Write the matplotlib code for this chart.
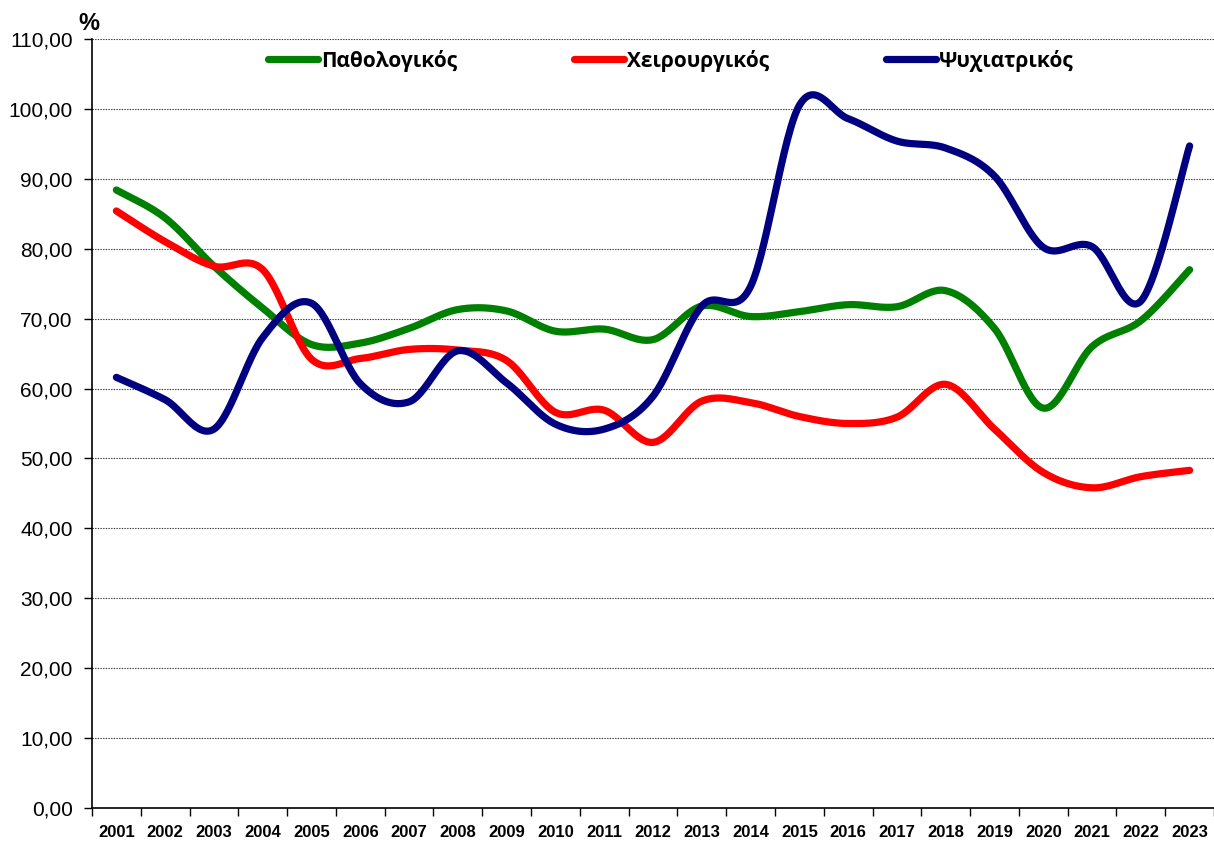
import numpy as np
import matplotlib
matplotlib.use("Agg")
import matplotlib.pyplot as plt

years = [str(y) for y in range(2001, 2024)]
pathologikos = [88.4, 84.4, 77.5, 71.5, 66.3, 66.5, 68.6, 71.3, 71.1, 68.2, 68.5, 67.0,
                71.8, 70.3, 71.0, 72.0, 71.7, 74.0, 68.6, 57.2, 66.0, 69.7, 77.0]
cheirourgikos = [85.4, 81.0, 77.5, 77.0, 64.2, 64.3, 65.6, 65.5, 64.0, 56.6, 56.9, 52.3,
                 58.2, 58.0, 56.0, 55.0, 55.9, 60.6, 54.2, 48.0, 45.8, 47.4, 48.3]
psychiatrikos = [61.6, 58.4, 54.2, 67.3, 72.2, 60.7, 58.1, 65.4, 60.8, 54.9, 54.2, 58.9,
                 71.8, 74.6, 100.5, 98.6, 95.4, 94.4, 90.4, 80.2, 80.3, 72.5, 94.7]
series_names = ["Παθολογικός", "Χειρουργικός", "Ψυχιατρικός"]
colors = ["#008000", "#FF0000", "#000080"]
yticks = np.arange(0, 111, 10)


def smooth(xs, ys, n=30):
    xs = np.asarray(xs, float)
    ys = np.asarray(ys, float)
    px = np.concatenate([[xs[0]], xs, [xs[-1]]])
    py = np.concatenate([[ys[0]], ys, [ys[-1]]])
    outx, outy = [], []
    t = np.linspace(0, 1, n)
    for i in range(1, len(px) - 2):
        p0 = np.array([px[i], py[i]])
        p3 = np.array([px[i + 1], py[i + 1]])
        c1 = p0 + (np.array([px[i + 1], py[i + 1]]) - np.array([px[i - 1], py[i - 1]])) / 6
        c2 = p3 - (np.array([px[i + 2], py[i + 2]]) - np.array([px[i], py[i]])) / 6
        b = ((1 - t) ** 3)[:, None] * p0 + (3 * (1 - t) ** 2 * t)[:, None] * c1 + \
            (3 * (1 - t) * t ** 2)[:, None] * c2 + (t ** 3)[:, None] * p3
        outx.extend(b[:, 0])
        outy.extend(b[:, 1])
    return np.array(outx), np.array(outy)


fig = plt.figure(figsize=(12.14, 8.41), dpi=100)
ax = fig.add_axes([92 / 1214, 1 - 808 / 841, 1122 / 1214, 769 / 841])

x = np.arange(len(years))
for vals, name, col in zip([pathologikos, cheirourgikos, psychiatrikos], series_names, colors):
    sx, sy = smooth(x, vals)
    ax.plot(sx, sy, color=col, lw=5.2, solid_capstyle="round", label=name, zorder=3)

ax.set_xlim(-0.5, len(years) - 0.5)
ax.set_ylim(0, 110)
ax.set_yticks(yticks)
ax.set_yticklabels([f"{v:.2f}".replace(".", ",") for v in yticks],
                   fontsize=15, family="Liberation Sans")
ax.set_xticks(x)
ax.set_xticklabels(years, fontsize=12, fontweight="bold", family="Liberation Sans")
ax.set_xticks(np.arange(-0.5, len(years), 1), minor=True)
ax.tick_params(axis="x", which="major", length=0, pad=12)
ax.tick_params(axis="x", which="minor", length=6, width=1, color="black")
ax.tick_params(axis="y", length=6, width=1, pad=8)

for v in yticks[1:]:
    ax.axhline(v, color="#333333", lw=0.8, ls=(0, (1.2, 1.2)), zorder=1)

for s in ["top", "right"]:
    ax.spines[s].set_visible(False)
for s in ["left", "bottom"]:
    ax.spines[s].set_color("black")
    ax.spines[s].set_linewidth(1.2)

fig.text(89 / 1214, 1 - 23 / 841, "%", fontsize=17, fontweight="bold",
         family="Liberation Sans", ha="center", va="center")

leg = ax.legend(loc="center", bbox_to_anchor=(0.516, 0.972), ncol=3, frameon=False,
                handlelength=2.4, handletextpad=0.15, columnspacing=5.6,
                prop={"family": "Open Sans", "weight": "bold", "size": 15})

fig.savefig("out.png", dpi=100)
